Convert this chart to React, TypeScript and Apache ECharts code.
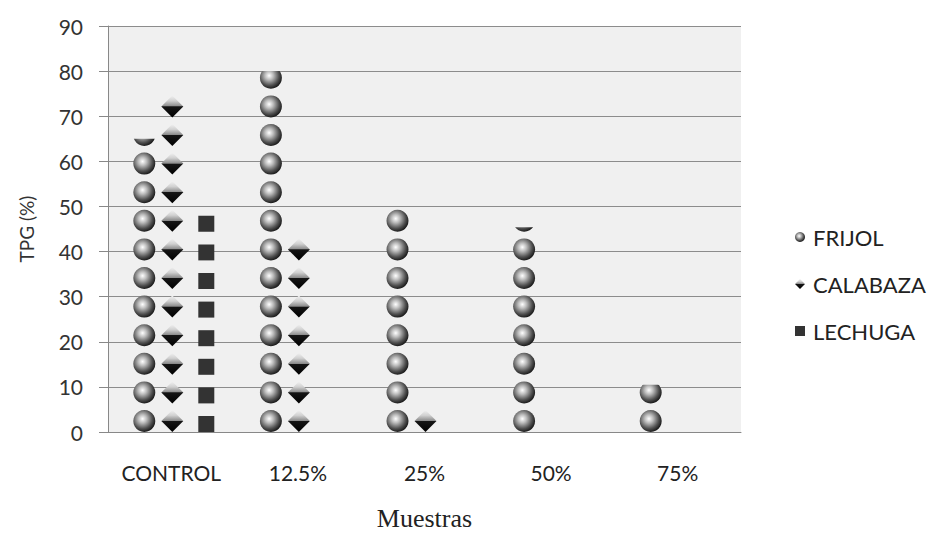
import React, { useEffect, useRef } from "react";
import * as echarts from "echarts";

const categories = ["CONTROL", "12.5%", "25%", "50%", "75%"];
const frijol = [65, 80, 49.8, 45.4, 10.5];
const calabaza = [75.3, 43.5, 5, 0, 0];
const lechuga = [48.5, 0, 0, 0, 0];
const yTicks = { min: 0, max: 90, interval: 10 };

const DIAMOND = "path://M11,0 L22,11 L11,22 L0,11 Z";

export default function App() {
  const ref = useRef<HTMLDivElement>(null);
  useEffect(() => {
    document.body.style.margin = "0";
    const chart = echarts.init(ref.current!, null, { renderer: "svg" });
    const sphere = new echarts.graphic.RadialGradient(0.42, 0.4, 0.62, [
      { offset: 0, color: "#ffffff" },
      { offset: 0.3, color: "#bdbdbd" },
      { offset: 0.72, color: "#505050" },
      { offset: 1, color: "#161616" },
    ]);
    const diamondFill = new echarts.graphic.LinearGradient(0, 0, 0, 1, [
      { offset: 0, color: "#f2f2f2" },
      { offset: 0.25, color: "#d0d0d0" },
      { offset: 0.49, color: "#8a8a8a" },
      { offset: 0.51, color: "#151515" },
      { offset: 1, color: "#000000" },
    ]);
    const pxPerUnit = 406 / 90;
    const slot = 28.6;
    const big = 22;
    const small = 16;
    const boundBig = (14 * slot - (slot - big)) / pxPerUnit;
    const boundSmall = (14 * slot - (slot - small)) / pxPerUnit;
    const font = "Lato";
    chart.setOption({
      animation: false,
      backgroundColor: "#ffffff",
      textStyle: { fontFamily: font },
      grid: {
        left: 108,
        top: 26,
        right: 187,
        bottom: 102,
        show: true,
        backgroundColor: "#f0f0f0",
        borderWidth: 0,
        containLabel: false,
        outerBoundsMode: "none",
      },
      legend: {
        orient: "vertical",
        left: 795,
        top: 226,
        padding: 0,
        itemGap: 25,
        itemWidth: 10,
        itemHeight: 10,
        textStyle: { fontFamily: font, fontSize: 22, color: "#222", padding: [0, 0, 0, 3] },
        data: [
          { name: "FRIJOL", icon: "circle", itemStyle: { color: sphere } },
          { name: "CALABAZA", icon: DIAMOND, itemStyle: { color: diamondFill } },
          { name: "LECHUGA", icon: "rect", itemStyle: { color: "#333" } },
        ],
      },
      xAxis: {
        type: "category",
        data: categories,
        name: "Muestras",
        nameLocation: "middle",
        nameGap: 73,
        nameTextStyle: { fontFamily: "Liberation Serif", fontSize: 26, color: "#222" },
        axisLine: { lineStyle: { color: "#888", width: 1 } },
        axisTick: { show: false },
        axisLabel: { interval: 0, fontFamily: font, fontSize: 21, color: "#222", margin: 30 },
      },
      yAxis: {
        type: "value",
        min: yTicks.min,
        max: yTicks.max,
        interval: yTicks.interval,
        name: "TPG (%)",
        nameLocation: "middle",
        nameGap: 72,
        nameTextStyle: { fontFamily: font, fontSize: 19, color: "#333" },
        axisLine: { show: true, lineStyle: { color: "#888" } },
        axisTick: { show: true, length: 9, lineStyle: { color: "#888" } },
        axisLabel: { fontFamily: font, fontSize: 21, color: "#333", margin: 25 },
        splitLine: { show: true, lineStyle: { color: "#8c8c8c", width: 1 } },
      },
      series: [
        {
          name: "FRIJOL",
          type: "pictorialBar",
          data: frijol,
          symbol: "circle",
          symbolSize: [big, big],
          symbolRepeat: 14,
          symbolClip: true,
          symbolBoundingData: boundBig,
          symbolOffset: [4, 0],
          barWidth: 31,
          barGap: "0%",
          itemStyle: { color: sphere },
        },
        {
          name: "CALABAZA",
          type: "pictorialBar",
          data: calabaza,
          symbol: DIAMOND,
          symbolSize: [big, big],
          symbolRepeat: 14,
          symbolClip: true,
          symbolBoundingData: boundBig,
          symbolOffset: [1, 0],
          barWidth: 31,
          barGap: "0%",
          itemStyle: { color: diamondFill },
        },
        {
          name: "LECHUGA",
          type: "pictorialBar",
          data: lechuga,
          symbol: "rect",
          symbolSize: [small, small],
          symbolRepeat: 14,
          symbolClip: true,
          symbolBoundingData: boundSmall,
          symbolOffset: [4, 0],
          barWidth: 31,
          barGap: "0%",
          itemStyle: { color: "#333333" },
        },
      ],
    });
    return () => chart.dispose();
  }, []);
  return (
    <div
      ref={ref}
      style={{ position: "absolute", left: 0, top: 0, width: 928, height: 534 }}
    />
  );
}
